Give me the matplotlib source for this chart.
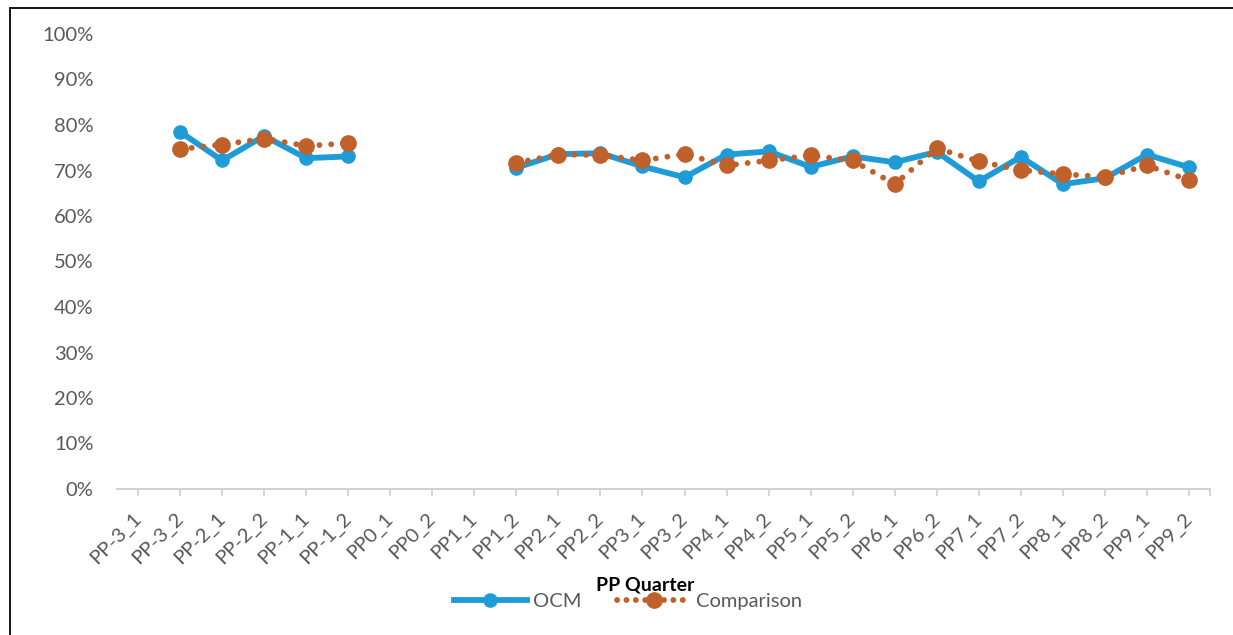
import numpy as np
import matplotlib
matplotlib.use("Agg")
import matplotlib.pyplot as plt
from matplotlib.lines import Line2D
from matplotlib.patches import Rectangle

categories = ["PP-3_1", "PP-3_2", "PP-2_1", "PP-2_2", "PP-1_1", "PP-1_2",
              "PP0_1", "PP0_2", "PP1_1", "PP1_2", "PP2_1", "PP2_2", "PP3_1",
              "PP3_2", "PP4_1", "PP4_2", "PP5_1", "PP5_2", "PP6_1", "PP6_2",
              "PP7_1", "PP7_2", "PP8_1", "PP8_2", "PP9_1", "PP9_2"]
nan = np.nan
ocm = [nan, 0.785, 0.722, 0.776, 0.727, 0.731,
       nan, nan, nan, 0.706, 0.736, 0.738, 0.709,
       0.685, 0.735, 0.742, 0.708, 0.731, 0.718, 0.741,
       0.676, 0.730, 0.670, 0.683, 0.735, 0.707]
comparison = [nan, 0.747, 0.757, 0.770, 0.754, 0.760,
              nan, nan, nan, 0.717, 0.735, 0.734, 0.722,
              0.736, 0.711, 0.722, 0.733, 0.722, 0.670, 0.749,
              0.720, 0.701, 0.692, 0.686, 0.711, 0.679]
yticks = [0, 0.1, 0.2, 0.3, 0.4, 0.5, 0.6, 0.7, 0.8, 0.9, 1.0]

BLUE = "#1F9BD7"
ORANGE = "#C0602A"
GRAY = "#595959"
AXIS = "#D0D0D0"
FONT = ["Lato", "DejaVu Sans"]

plt.rcParams["font.family"] = FONT
fig = plt.figure(figsize=(12.33, 6.35), dpi=100)
W, H = 1233, 635
ax = fig.add_axes([117 / W, 1 - 489 / H, (1210 - 117) / W, (489 - 34) / H])

x = np.arange(len(categories))
ax.plot(x, ocm, color=BLUE, lw=4.2, marker="o", ms=9.5, zorder=2,
        solid_capstyle="round", solid_joinstyle="round", clip_on=False)
ax.plot(x, comparison, color=ORANGE, lw=4.2, ls=(0, (0.01, 2.0)),
        dash_capstyle="round", marker="o", ms=11, zorder=3, clip_on=False)

ax.set_xlim(-0.5, len(categories) - 0.5)
ax.set_ylim(0, 1.0)
ax.set_yticks(yticks)
ax.set_yticklabels([f"{int(round(v * 100))}%" for v in yticks], color=GRAY,
                   fontsize=14.5)
ax.tick_params(axis="y", length=0, pad=17)

ax.set_xticks(x)
ax.set_xticklabels(categories, rotation=45, ha="right", va="center",
                   rotation_mode="anchor", color=GRAY, fontsize=14.5)
ax.set_xticks([len(categories) - 0.5], minor=True)
ax.tick_params(axis="x", which="both", length=5, color=AXIS, width=1.2,
               pad=14)

for s in ["top", "right", "left"]:
    ax.spines[s].set_visible(False)
ax.spines["bottom"].set_color(AXIS)
ax.spines["bottom"].set_linewidth(1.4)

fig.text(645 / W, 1 - 585 / H, "PP Quarter", ha="center", va="center",
         fontsize=14, fontweight="bold", color="black")

handles = [
    Line2D([], [], color=BLUE, lw=4.2, marker="o", ms=9.5),
    Line2D([], [], color=ORANGE, lw=4.2, ls=(0, (0.01, 1.6)),
           dash_capstyle="round", marker="o", ms=11),
]
fig.legend(handles, ["OCM", "Comparison"], loc="center",
           bbox_to_anchor=(628 / W, 1 - 601 / H), ncol=2, frameon=False,
           fontsize=14.5, handlelength=3.6, columnspacing=1.8,
           handletextpad=0.3, labelcolor=GRAY)

fig.patches.append(Rectangle((10 / W, -0.1), 1.2, 1 - 8 / H + 0.1,
                             transform=fig.transFigure, fill=False,
                             edgecolor="black", lw=1.3))

fig.savefig("out.png", dpi=100, facecolor="white")
